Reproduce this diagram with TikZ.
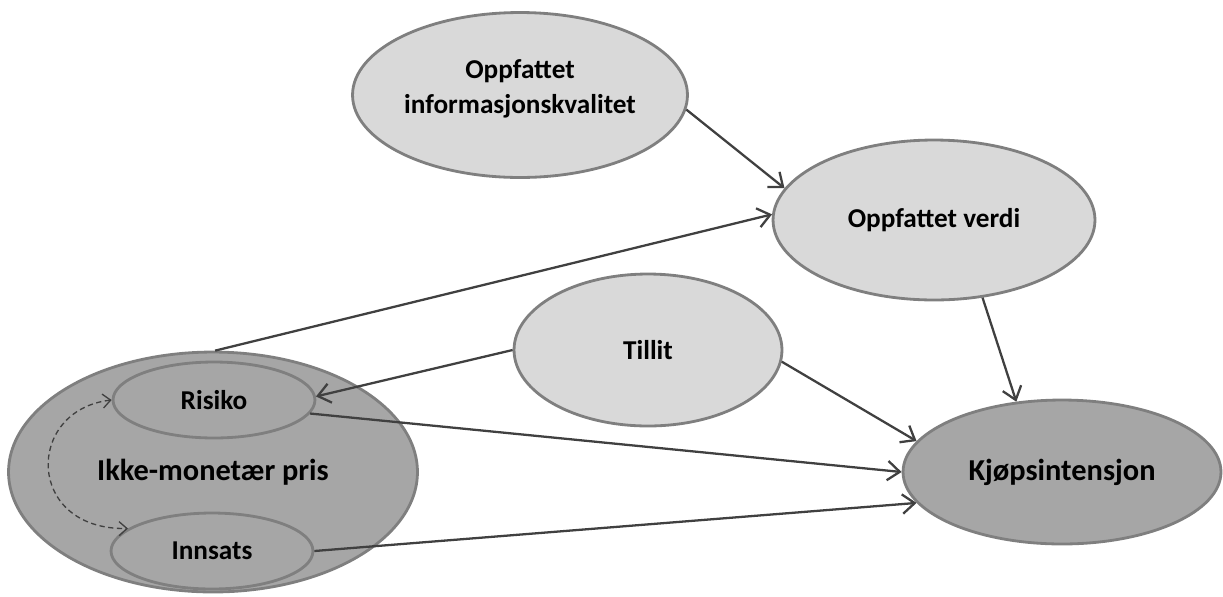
\documentclass[tikz,border=0pt]{standalone}
\usepackage{fontspec}
\setmainfont{Carlito}
\usetikzlibrary{arrows.meta,shapes.geometric}

\definecolor{lightfill}{HTML}{D9D9D9}
\definecolor{darkfill}{HTML}{A6A6A6}
\definecolor{rim}{HTML}{7F7F7F}
\definecolor{pil}{HTML}{404040}

\tikzset{
    konsept/.style={ellipse, draw=rim, line width=1.6pt, fill=lightfill, inner sep=0pt, align=center, font=\bfseries\fontsize{15.5}{20}\selectfont},
    utfall/.style={konsept, fill=darkfill, font=\bfseries\fontsize{17.3}{21}\selectfont},
    pilen/.style={draw=pil, line width=1.3pt, -{Straight Barb[length=7pt,width=11pt]}},
    stiplet/.style={draw=pil, line width=0.75pt, dash pattern=on 3pt off 2pt, {Straight Barb[length=4.5pt,width=8pt]}-{Straight Barb[length=4.5pt,width=8pt]}}
}

\begin{document}
\begin{tikzpicture}[x=0.02cm,y=-0.02cm]
\useasboundingbox (0,0) rectangle (1223,596);

    \node [konsept, minimum width=6.7cm, minimum height=3.3cm] (info) at (520,95) {Oppfattet\\informasjonskvalitet\\[-10pt]\mbox{}};
    \node [konsept, minimum width=6.44cm, minimum height=3.2cm] (verdi) at (934,220) {Oppfattet verdi};
    \node [konsept, minimum width=5.36cm, minimum height=3.04cm] (tillit) at (648,350) {Tillit};
    \node [utfall, minimum width=6.36cm, minimum height=2.88cm] (kjop) at (1062,472) {Kjøpsintensjon};

    \node [utfall, minimum width=8.18cm, minimum height=4.8cm] (pris) at (213,472) {Ikke-monetær pris};
    \node [konsept, fill=darkfill, minimum width=4.04cm, minimum height=1.52cm] (risiko) at (214,400) {Risiko};
    \node [konsept, fill=darkfill, minimum width=4.04cm, minimum height=1.52cm] (innsats) at (212,551) {Innsats};

    \path [pilen] (info.-5) -- (verdi.168);
    \path [pilen] (pris.89) -- (verdi.178);
    \path [pilen] (verdi.-58) -- (kjop.123);
    \path [pilen] (tillit.west) -- (risiko.2);
    \path [pilen] (tillit.-5) -- (kjop.168);
    \path [pilen] (risiko.-8) -- (kjop.west);
    \path [pilen] (innsats.east) -- (kjop.192);

    \draw [stiplet] (risiko.west) .. controls (25,410) and (25,530) .. (innsats.165);

\end{tikzpicture}
\end{document}
